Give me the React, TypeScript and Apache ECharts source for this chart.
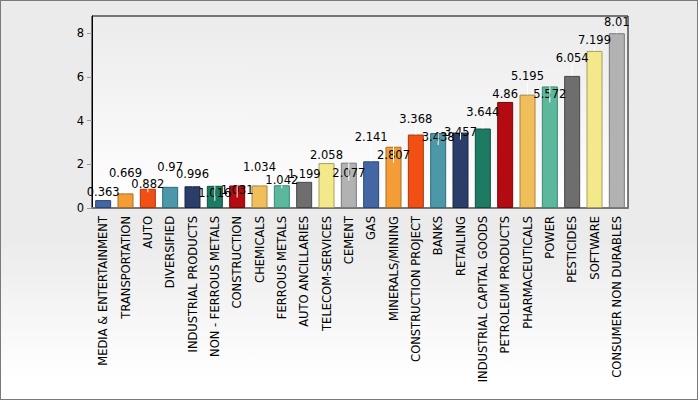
import React, { useEffect, useRef } from "react";
import * as echarts from "echarts";

const categories = [
  "MEDIA & ENTERTAINMENT",
  "TRANSPORTATION",
  "AUTO",
  "DIVERSIFIED",
  "INDUSTRIAL PRODUCTS",
  "NON - FERROUS METALS",
  "CONSTRUCTION",
  "CHEMICALS",
  "FERROUS METALS",
  "AUTO ANCILLARIES",
  "TELECOM-SERVICES",
  "CEMENT",
  "GAS",
  "MINERALS/MINING",
  "CONSTRUCTION PROJECT",
  "BANKS",
  "RETAILING",
  "INDUSTRIAL CAPITAL GOODS",
  "PETROLEUM PRODUCTS",
  "PHARMACEUTICALS",
  "POWER",
  "PESTICIDES",
  "SOFTWARE",
  "CONSUMER NON DURABLES",
];

const values = [
  0.363, 0.669, 0.882, 0.97, 0.996, 1.016, 1.031, 1.034, 1.042, 1.199, 2.058,
  2.077, 2.141, 2.807, 3.368, 3.438, 3.457, 3.644, 4.86, 5.195, 5.572, 6.054,
  7.199, 8.01,
];

const yTicks = [0, 2, 4, 6, 8];

// styling
const palette = [
  "#4466a3", "#f49d37", "#f14f14", "#4c98a8", "#2b3e69", "#1d7a63",
  "#b40a12", "#f1be5c", "#5cb89d", "#6e6e6e", "#f3e98b", "#b2b2b2",
];
const borders = [
  "#2c4676", "#a86c25", "#a8380e", "#2f6b78", "#1a2744", "#0f5140",
  "#7a060b", "#a8843e", "#3c8670", "#464646", "#a8a05c", "#7a7a7a",
];
// vertical label shifts (px) to mimic the original's collision avoidance
const labelShift = [
  0, -12, 3.5, -12, -4.5, 15, 12, -10, 3, 0, 0, 18, -16.5, 16, -8, 12, 7, -8,
  0, -10.5, 16, -10, -3, -3,
];

const FONT = "DejaVu Sans";

export default function App() {
  const ref = useRef<HTMLDivElement>(null);
  useEffect(() => {
    if (!ref.current) return;
    const chart = echarts.init(ref.current, null, { renderer: "svg" });
    chart.setOption({
      animation: false,
      backgroundColor: "transparent",
      grid: {
        left: 91,
        right: 69,
        top: 15,
        bottom: 191,
        show: true,
        borderColor: "#000",
        borderWidth: 1,
        backgroundColor: new echarts.graphic.LinearGradient(0, 0, 0, 1, [
          { offset: 0, color: "#ebebeb" },
          { offset: 1, color: "#ffffff" },
        ]),
      },
      xAxis: {
        type: "category",
        data: categories,
        axisLine: { lineStyle: { color: "#777", width: 2 } },
        axisTick: {
          alignWithLabel: true,
          length: 5,
          lineStyle: { color: "#999" },
        },
        axisLabel: {
          rotate: 90,
          interval: 0,
          margin: 8,
          color: "#000",
          fontFamily: FONT,
          fontSize: 11.5,
        },
      },
      yAxis: {
        type: "value",
        min: 0,
        max: 8.8,
        interval: 2,
        splitLine: { show: false },
        axisLine: { show: true, lineStyle: { color: "#000", width: 1 } },
        axisTick: {
          show: true,
          length: 5,
          lineStyle: { color: "#999" },
          customValues: yTicks,
        },
        axisLabel: {
          color: "#000",
          fontFamily: FONT,
          fontSize: 11.5,
          margin: 8,
          customValues: yTicks,
        },
      },
      series: [
        {
          type: "bar",
          barWidth: 16,
          z: 2,
          data: values.map((v, i) => ({
            value: v,
            itemStyle: {
              color: palette[i % palette.length],
              borderColor: borders[i % borders.length],
              borderWidth: 1,
            },
          })),
          label: {
            show: true,
            position: "top",
            distance: 2,
            color: "#000",
            fontFamily: FONT,
            fontSize: 11.5,
          },
          labelLayout: (p: any) => ({ dy: labelShift[p.dataIndex] }),
        },
        {
          type: "custom",
          z: 3,
          silent: true,
          data: values.map((v, i) => [i, v]),
          renderItem: (params: any, api: any) => {
            const i = api.value(0);
            const top = api.coord([i, api.value(1)]);
            const s = labelShift[params.dataIndex];
            const center = top[1] - 8 + s;
            const y2 = s < 0 ? center + 6 : center + 8;
            if (Math.abs(y2 - top[1]) < 2) return null;
            return {
              type: "line",
              shape: { x1: top[0], y1: top[1], x2: top[0], y2 },
              style: { stroke: "#ffffff", lineWidth: 1 },
            };
          },
        },
      ],
    });
    return () => chart.dispose();
  }, []);
  return (
    <div
      style={{
        position: "fixed",
        left: 0,
        top: 0,
        width: 698,
        height: 400,
        boxSizing: "border-box",
        border: "1px solid #7a7a7a",
        background:
          "linear-gradient(to bottom, #ebebeb 0%, #ebebeb 60%, #ffffff 95%)",
      }}
    >
      <div ref={ref} style={{ width: 696, height: 398 }} />
    </div>
  );
}
